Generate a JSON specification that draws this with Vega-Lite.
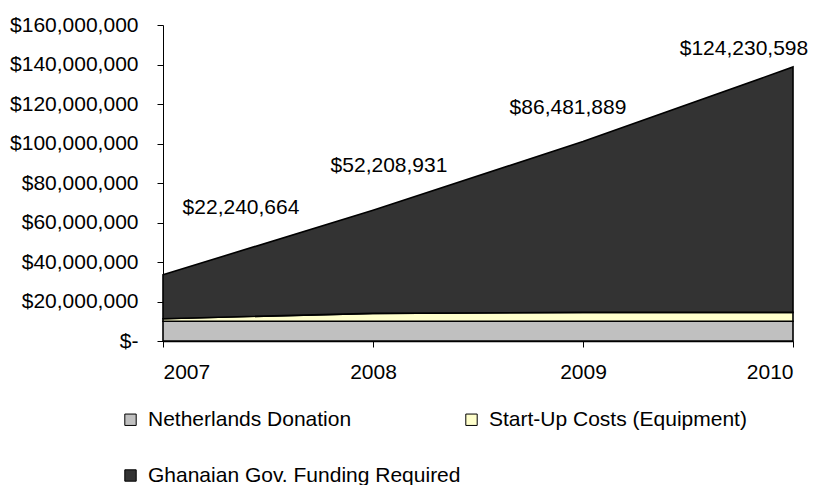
{
  "$schema": "https://vega.github.io/schema/vega-lite/v6.json",
  "width": 630,
  "height": 316,
  "autosize": {"type": "none"},
  "padding": {"left": 163, "top": 25, "right": 24, "bottom": 144},
  "background": "white",
  "config": {
    "font": "Liberation Sans",
    "view": {"stroke": null},
    "axis": {"labelFont": "Liberation Sans", "labelFontSize": 21, "labelColor": "black", "domainColor": "black", "tickColor": "black", "grid": false, "title": null, "labelOverlap": false}
  },
  "data": {
    "values": [
      {"year": 2007, "series": "Netherlands Donation", "value": 10000000},
      {"year": 2008, "series": "Netherlands Donation", "value": 10000000},
      {"year": 2009, "series": "Netherlands Donation", "value": 10000000},
      {"year": 2010, "series": "Netherlands Donation", "value": 10000000},
      {"year": 2007, "series": "Start-Up Costs (Equipment)", "value": 1300000},
      {"year": 2008, "series": "Start-Up Costs (Equipment)", "value": 4000000},
      {"year": 2009, "series": "Start-Up Costs (Equipment)", "value": 4500000},
      {"year": 2010, "series": "Start-Up Costs (Equipment)", "value": 4500000},
      {"year": 2007, "series": "Ghanaian Gov. Funding Required", "value": 22240664},
      {"year": 2008, "series": "Ghanaian Gov. Funding Required", "value": 52208931},
      {"year": 2009, "series": "Ghanaian Gov. Funding Required", "value": 86481889},
      {"year": 2010, "series": "Ghanaian Gov. Funding Required", "value": 124230598}
    ]
  },
  "layer": [
    {
      "transform": [{"calculate": "indexof(['Netherlands Donation', 'Start-Up Costs (Equipment)', 'Ghanaian Gov. Funding Required'], datum.series)", "as": "stackRank"}],
      "mark": {"type": "area", "stroke": "black", "strokeWidth": 1.6, "opacity": 1},
      "encoding": {
        "x": {"field": "year", "type": "quantitative", "scale": {"domain": [2007, 2010], "nice": false, "zero": false},
          "axis": {"values": [2007, 2008, 2009, 2010], "format": "d", "tickSize": 6, "labelPadding": 14, "domainWidth": 1.5, "labelOverlap": false}},
        "y": {"field": "value", "type": "quantitative", "stack": "zero", "scale": {"domain": [0, 160000000], "nice": false},
          "axis": {"values": [0, 20000000, 40000000, 60000000, 80000000, 100000000, 120000000, 140000000, 160000000],
            "labelExpr": "datum.value == 0 ? '$-' : '$' + format(datum.value, ',')", "tickSize": 6, "labelPadding": 19, "labelOverlap": false, "labelBound": false}},
        "color": {"field": "series", "type": "nominal",
          "sort": ["Netherlands Donation", "Start-Up Costs (Equipment)", "Ghanaian Gov. Funding Required"],
          "scale": {"domain": ["Netherlands Donation", "Start-Up Costs (Equipment)", "Ghanaian Gov. Funding Required"], "range": ["#C0C0C0", "#FFFFCC", "#333333"]},
          "legend": {"orient": "none", "legendX": -43, "legendY": 384, "columns": 2, "direction": "horizontal", "title": null,
            "symbolType": "square", "symbolSize": 130, "symbolStrokeColor": "black", "symbolStrokeWidth": 1, "symbolOpacity": 1,
            "labelFont": "Liberation Sans", "labelFontSize": 21, "labelColor": "black", "labelOffset": 7, "labelLimit": 500,
            "columnPadding": -10, "rowPadding": 34}},
        "order": {"field": "stackRank", "type": "quantitative", "sort": "ascending"}
      }
    },
    {
      "transform": [{"filter": "datum.series == 'Ghanaian Gov. Funding Required'"}],
      "mark": {"type": "text", "font": "Liberation Sans", "fontSize": 21, "color": "black",
        "dx": {"expr": "datum.year == 2007 ? 78 : datum.year == 2008 ? 16 : datum.year == 2009 ? -15 : -49"},
        "dy": {"expr": "datum.year == 2007 ? -89 : datum.year == 2008 ? -72 : datum.year == 2009 ? -62 : -47"}},
      "encoding": {
        "x": {"field": "year", "type": "quantitative",
          "axis": {"values": [2007, 2008, 2009, 2010], "format": "d", "tickSize": 6, "labelPadding": 14, "domainWidth": 1.5, "labelOverlap": false}},
        "y": {"field": "value", "type": "quantitative",
          "axis": {"values": [0, 20000000, 40000000, 60000000, 80000000, 100000000, 120000000, 140000000, 160000000],
            "labelExpr": "datum.value == 0 ? '$-' : '$' + format(datum.value, ',')", "tickSize": 6, "labelPadding": 19, "labelOverlap": false, "labelBound": false}},
        "text": {"field": "value", "type": "quantitative", "format": "$,"}
      }
    }
  ]
}
